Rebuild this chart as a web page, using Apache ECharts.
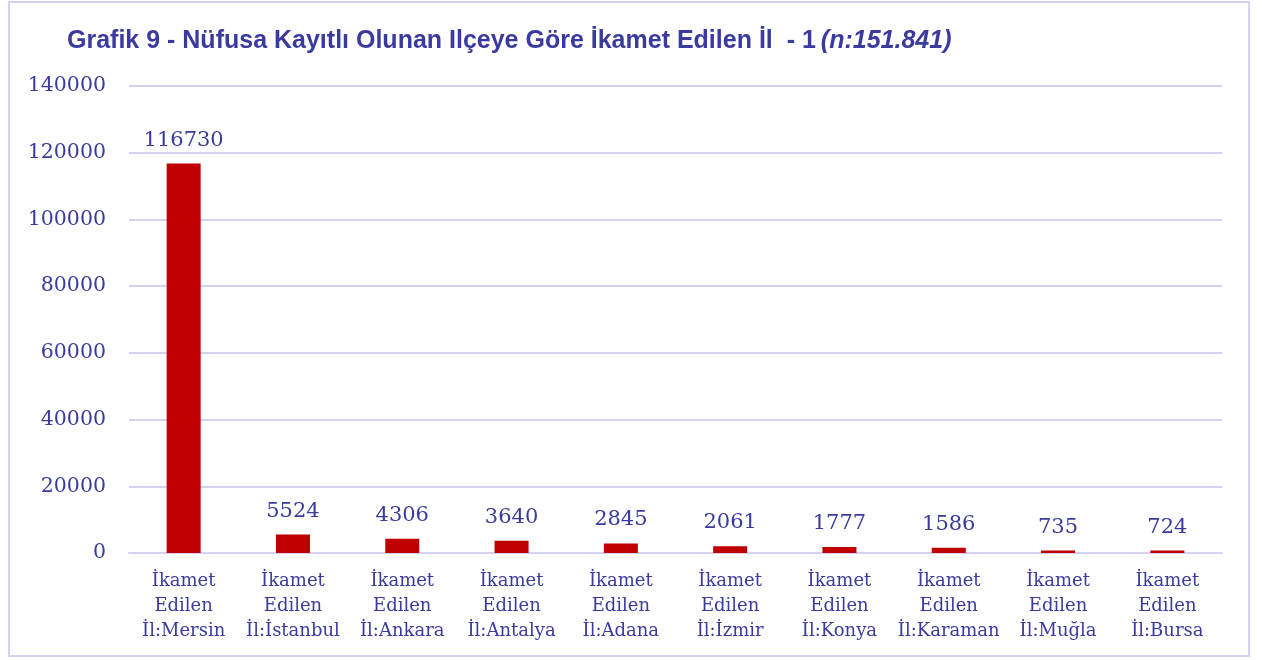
<!DOCTYPE html>
<html>
<head>
<meta charset="utf-8">
<script src="https://cdn.jsdelivr.net/npm/echarts@6/dist/echarts.min.js"></script>
<style>
    html, body { margin: 0; padding: 0; background: #fff; }
    #frame { position: absolute; left: 8px; top: 1px; width: 1242px; height: 656px; border: 2px solid #D4D2EE; box-sizing: border-box; }
    #chart { position: absolute; left: 0; top: 0; width: 1262px; height: 660px; }
</style>
</head>
<body>
<div id="frame"></div>
<div id="chart"></div>
<script>
var categories = ['İkamet\nEdilen\nİl:Mersin', 'İkamet\nEdilen\nİl:İstanbul', 'İkamet\nEdilen\nİl:Ankara', 'İkamet\nEdilen\nİl:Antalya',
    'İkamet\nEdilen\nİl:Adana', 'İkamet\nEdilen\nİl:İzmir', 'İkamet\nEdilen\nİl:Konya', 'İkamet\nEdilen\nİl:Karaman',
    'İkamet\nEdilen\nİl:Muğla', 'İkamet\nEdilen\nİl:Bursa'];
var counts = [116730, 5524, 4306, 3640, 2845, 2061, 1777, 1586, 735, 724];

var textColor = '#3B3A9E';
var serif = '"DejaVu Serif", "Liberation Serif", serif';

var myChart = echarts.init(document.getElementById('chart'));
var option = {
    backgroundColor: 'transparent',
    title: {
        left: 62,
        top: 24,
        text: '{b|Grafik 9 - Nüfusa Kayıtlı Olunan Ilçeye Göre İkamet Edilen İl  - 1} {i|(n:151.841)}',
        textStyle: {
            rich: {
                b: { fontFamily: '"Liberation Sans", sans-serif', fontWeight: 'bold', fontSize: 25, color: textColor },
                i: { fontFamily: '"Liberation Sans", sans-serif', fontStyle: 'italic', fontSize: 25, color: textColor }
            }
        }
    },
    grid: {
        left: 129,
        right: 40,
        top: 86,
        bottom: 107
    },
    xAxis: {
        type: 'category',
        data: categories,
        axisTick: { show: false },
        axisLine: { lineStyle: { color: '#D4D2EE', width: 2 } },
        axisLabel: {
            color: textColor,
            fontFamily: serif,
            fontSize: 18,
            lineHeight: 25,
            margin: 16,
            interval: 0
        }
    },
    yAxis: {
        type: 'value',
        min: 0,
        max: 140000,
        interval: 20000,
        axisLine: { show: false },
        axisTick: { show: false },
        splitLine: { lineStyle: { color: '#D4D2EE', width: 2 } },
        axisLabel: {
            color: textColor,
            fontFamily: serif,
            fontSize: 20.5,
            margin: 23,
            formatter: function (v) { return String(v); }
        }
    },
    series: [{
        type: 'bar',
        data: counts,
        barWidth: 34,
        itemStyle: { color: '#C00000' },
        label: {
            show: true,
            position: 'top',
            distance: 13,
            color: textColor,
            fontFamily: serif,
            fontSize: 21
        }
    }]
};
myChart.setOption(option);
window.onresize = myChart.resize;
</script>
</body>
</html>
